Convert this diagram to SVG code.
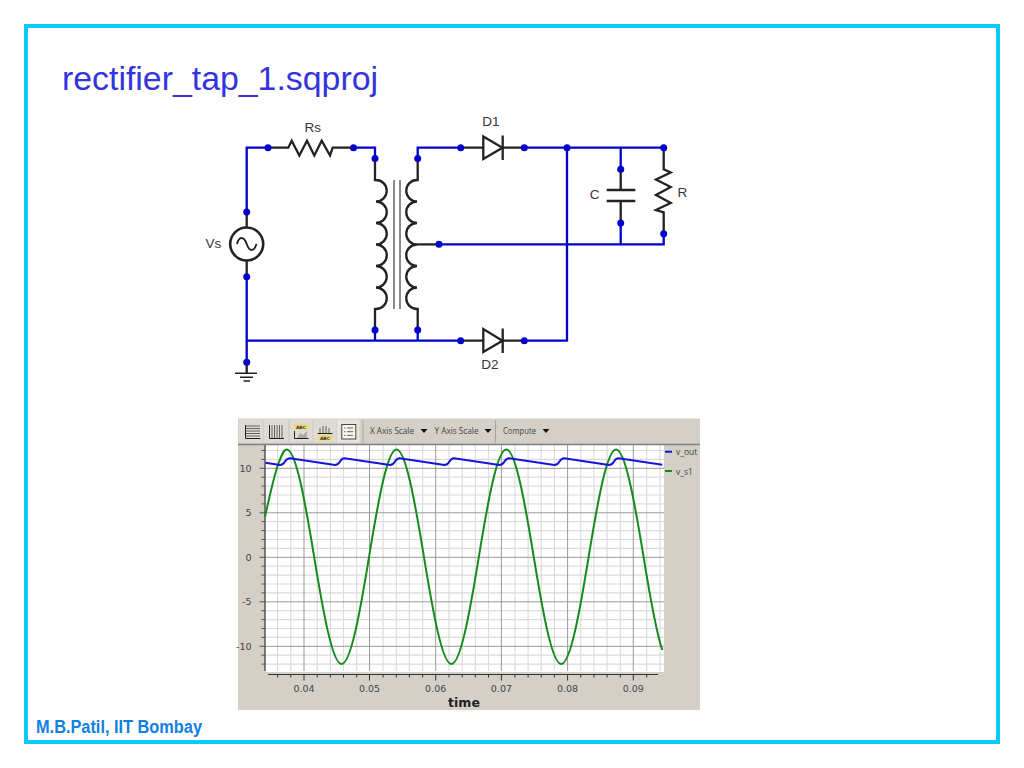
<svg xmlns="http://www.w3.org/2000/svg" width="1024" height="768" viewBox="0 0 1024 768">
<defs>
<style>
.wire{fill:none;stroke:#0000cc;stroke-width:2.3}
.lead{fill:none;stroke:#222;stroke-width:2.3}
.dot{fill:#0000c8}
.clab{font-family:"Liberation Sans",Arial,sans-serif;font-size:13.5px;fill:#3a3340}
.tick{font-family:"DejaVu Sans",sans-serif;font-size:9.5px;fill:#444}
.tb{font-family:"Open Sans",sans-serif;font-size:8.5px;fill:#444}
.ico{font-family:"DejaVu Sans",sans-serif;font-size:4.5px;font-weight:bold;fill:#333}
.btn{fill:#dedbd4}
.arr{fill:#111}
</style>
</defs>
<rect width="1024" height="768" fill="#fff"/>
<rect id="frame" x="26" y="26" width="972" height="716" fill="none" stroke="#0acbff" stroke-width="4"/>
<text id="title" x="62" y="90" font-family="Liberation Sans,Arial,sans-serif" font-size="33px" fill="#3333e0" textLength="316" lengthAdjust="spacingAndGlyphs">rectifier_tap_1.sqproj</text>
<text id="footer" x="36" y="733" font-family="Liberation Sans,Arial,sans-serif" font-size="18px" font-weight="bold" fill="#1280e2" textLength="166" lengthAdjust="spacingAndGlyphs">M.B.Patil, IIT Bombay</text>

<g id="connectors">
<path class="wire" d="M246.7 212V147.7H268"/>
<path class="wire" d="M353.5 147.7H375V158.5"/>
<path class="wire" d="M246.7 276.7V362.3"/>
<path class="wire" d="M246.7 340.7H460.7"/>
<path class="wire" d="M375 330V340.7M417.7 330V340.7"/>
<path class="wire" d="M417.7 158.5V147.7H460.7"/>
<path class="wire" d="M524.3 147.7H663.7"/>
<path class="wire" d="M524.3 340.7H567V147.7"/>
<path class="wire" d="M439 244.3H663.7V233.7"/>
<path class="wire" d="M620.7 147.7V169.3M620.7 223V244.3"/>
</g>

<g id="Vs">
<path class="lead" d="M246.7 212V227M246.7 261V276.7"/>
<circle cx="246.7" cy="244" r="16.5" fill="#fff" stroke="#222" stroke-width="2.6"/>
<path fill="none" stroke="#222" stroke-width="1.9" d="M237 244C239 236 244 236 246.7 244C249.4 252 254 252 256.5 244"/>
<circle class="dot" cx="246.7" cy="212" r="3.5"/><circle class="dot" cx="246.7" cy="276.7" r="3.5"/>
<text class="clab" x="205.5" y="248">Vs</text>
</g>
<g id="Rs">
<path class="lead" d="M268 147.7H288.3L291.7 140.7L299.3 155.5L307 140.7L314.3 155.5L321.7 140.7L330 155.5L332.7 147.7H353.5"/>
<circle class="dot" cx="268" cy="147.7" r="3.5"/><circle class="dot" cx="353.5" cy="147.7" r="3.5"/>
<text class="clab" x="312.7" y="131.5" text-anchor="middle">Rs</text>
</g>
<g id="T1">
<path class="lead" d="M375 158.5V180H376A10.75 10.75 0 0 1 376 201.5A10.75 10.75 0 0 1 376 223A10.75 10.75 0 0 1 376 244.5A10.75 10.75 0 0 1 376 266A10.75 10.75 0 0 1 376 287.5A10.75 10.75 0 0 1 376 309H375V330"/>
<path class="lead" d="M417.7 158.5V180H417A10.75 10.75 0 0 0 417 201.5A10.75 10.75 0 0 0 417 223A10.75 10.75 0 0 0 417 244.5A10.75 10.75 0 0 0 417 266A10.75 10.75 0 0 0 417 287.5A10.75 10.75 0 0 0 417 309H417.7V330"/>
<path class="lead" d="M417 244.4H439"/>
<path fill="none" stroke="#8a8a8a" stroke-width="2" d="M394 180V309M400 180V309"/>
<circle class="dot" cx="375" cy="158.5" r="3.5"/><circle class="dot" cx="417.7" cy="158.5" r="3.5"/>
<circle class="dot" cx="375" cy="330" r="3.5"/><circle class="dot" cx="417.7" cy="330" r="3.5"/>
<circle class="dot" cx="439" cy="244.3" r="3.5"/>
</g>
<g id="D1">
<path class="lead" d="M460.7 147.7H483.3M502.5 147.7H524.3"/>
<path fill="#fff" stroke="#222" stroke-width="2.3" d="M483.3 136.5V159L502.5 147.7Z"/>
<path class="lead" d="M502.7 135.5V160"/>
<circle class="dot" cx="460.7" cy="147.7" r="3.5"/><circle class="dot" cx="524.3" cy="147.7" r="3.5"/>
<text class="clab" x="491" y="125.5" text-anchor="middle">D1</text>
</g>
<g id="D2">
<path class="lead" d="M460.7 340.7H483.3M502.5 340.7H524.3"/>
<path fill="#fff" stroke="#222" stroke-width="2.3" d="M483.3 329V352L502.5 340.7Z"/>
<path class="lead" d="M502.7 328.5V353"/>
<circle class="dot" cx="460.7" cy="340.7" r="3.5"/><circle class="dot" cx="524.3" cy="340.7" r="3.5"/>
<text class="clab" x="490" y="368.5" text-anchor="middle">D2</text>
</g>
<g id="C">
<path class="lead" d="M620.7 169.3V190M606.7 190H635.3M606.7 201H635.3M620.7 201V223"/>
<circle class="dot" cx="620.7" cy="169.3" r="3.5"/><circle class="dot" cx="620.7" cy="223" r="3.5"/>
<text class="clab" x="594.7" y="199" text-anchor="middle">C</text>
</g>
<g id="R">
<path class="lead" d="M663.7 147.7V169.3L670.7 172.5L656 179.5L670.7 187L656 195L670.7 203L656 210L663.7 212.3V233.7"/>
<circle class="dot" cx="663.7" cy="147.7" r="3.5"/><circle class="dot" cx="663.7" cy="233.7" r="3.5"/>
<text class="clab" x="677.5" y="196.5">R</text>
</g>
<g id="ground">
<path class="lead" d="M246.7 362.3V373"/>
<path fill="none" stroke="#222" stroke-width="1.6" d="M235 373.3H257M240 377.3H253M243.5 381H250"/>
<circle class="dot" cx="246.7" cy="362.3" r="3.5"/>
</g>
<circle class="dot" cx="567" cy="147.7" r="3.5"/>

<g id="plot">
<rect x="238" y="418.5" width="462" height="291.5" fill="#d4d0c8"/>
<rect x="265" y="445" width="399" height="227" fill="#fff"/>
<path fill="none" stroke="#dcdcdc" stroke-width="1.2" d="M277.6 445V671M290.8 445V671M317.2 445V671M330.4 445V671M343.5 445V671M356.7 445V671M383.1 445V671M396.3 445V671M409.4 445V671M422.6 445V671M449 445V671M462.2 445V671M475.3 445V671M488.5 445V671M514.9 445V671M528.1 445V671M541.2 445V671M554.4 445V671M580.8 445V671M594 445V671M607.1 445V671M620.3 445V671M646.7 445V671M659.9 445V671M265 450.5H664M265 459.4H664M265 477.2H664M265 486.1H664M265 495H664M265 503.9H664M265 521.7H664M265 530.6H664M265 539.5H664M265 548.4H664M265 566.2H664M265 575.1H664M265 584H664M265 592.9H664M265 610.7H664M265 619.6H664M265 628.5H664M265 637.4H664M265 655.2H664M265 664.1H664"/>
<path fill="none" stroke="#999" stroke-width="1" d="M304 445V671M369.5 445V671M435.7 445V671M501.4 445V671M567.6 445V671M633.3 445V671M265 468.3H664M265 512.8H664M265 557.3H664M265 601.8H664M265 646.3H664"/>
<path fill="none" stroke="#555" stroke-width="1.5" d="M265 445V671"/>
<path fill="none" stroke="#555" stroke-width="1" d="M261.5 450.5H265M261.5 459.4H265M261.5 477.2H265M261.5 486.1H265M261.5 495H265M261.5 503.9H265M261.5 521.7H265M261.5 530.6H265M261.5 539.5H265M261.5 548.4H265M261.5 566.2H265M261.5 575.1H265M261.5 584H265M261.5 592.9H265M261.5 610.7H265M261.5 619.6H265M261.5 628.5H265M261.5 637.4H265M261.5 655.2H265M261.5 664.1H265M259.5 468.3H265M259.5 512.8H265M259.5 557.3H265M259.5 601.8H265M259.5 646.3H265"/>
<path fill="none" stroke="#333" stroke-width="1" d="M268 674.5H658M277.6 674.5V677.5M290.8 674.5V677.5M317.2 674.5V677.5M330.4 674.5V677.5M343.5 674.5V677.5M356.7 674.5V677.5M383.1 674.5V677.5M396.3 674.5V677.5M409.4 674.5V677.5M422.6 674.5V677.5M449 674.5V677.5M462.2 674.5V677.5M475.3 674.5V677.5M488.5 674.5V677.5M514.9 674.5V677.5M528.1 674.5V677.5M541.2 674.5V677.5M554.4 674.5V677.5M580.8 674.5V677.5M594 674.5V677.5M607.1 674.5V677.5M620.3 674.5V677.5M646.7 674.5V677.5M304 674.5V680.5M369.5 674.5V680.5M435.7 674.5V680.5M501.4 674.5V680.5M567.6 674.5V680.5M633.3 674.5V680.5"/>
<path id="v_s1" fill="none" stroke="#158a1e" stroke-width="2" d="M265 516.7C270 495 274 475 279 462C282 454 284 449.5 286.7 449.5C295.85 449.5 305 501 314.15 556.8C323.3 612.7 332.45 664 341.6 664C350.75 664 359.9 612.7 369.05 556.8C378.2 501 387.35 449.5 396.5 449.5C405.65 449.5 414.8 501 423.95 556.8C433.1 612.7 442.25 664 451.4 664C460.55 664 469.7 612.7 478.85 556.8C488 501 497.15 449.5 506.3 449.5C515.45 449.5 524.6 501 533.75 556.8C542.9 612.7 552.05 664 561.2 664C570.35 664 579.5 612.7 588.65 556.8C597.8 501 606.95 449.5 616.1 449.5C625.25 449.5 634.4 501 643.55 556.8C649.8 595.2 656 631.8 662.3 650"/>
<path id="v_out" fill="none" stroke="#1414dc" stroke-width="2" stroke-linejoin="round" d="M265.5 462.7L280 465Q283 465 285 461.5Q287 458.3 290 458.3L335 465Q338 465 340 461.5Q342 458.3 344.5 458.3L390 465Q393 465 395 461.5Q397 458.3 399.5 458.3L444.5 465Q447.5 465 449.5 461.5Q451.5 458.3 454 458.3L499.5 465Q502.5 465 504.5 461.5Q506.5 458.3 509 458.3L554.5 465Q557.5 465 559.5 461.5Q561.5 458.3 564 458.3L609 465Q612 465 614 461.5Q616 458.3 618.5 458.3L662.3 464.8"/>
<text class="tick" x="251.5" y="471.7" text-anchor="end">10</text>
<text class="tick" x="251.5" y="516" text-anchor="end">5</text>
<text class="tick" x="251.5" y="560.6" text-anchor="end">0</text>
<text class="tick" x="251.5" y="605" text-anchor="end">-5</text>
<text class="tick" x="251.5" y="649.6" text-anchor="end">-10</text>
<text class="tick" x="304" y="692" text-anchor="middle">0.04</text>
<text class="tick" x="369.5" y="692" text-anchor="middle">0.05</text>
<text class="tick" x="435.7" y="692" text-anchor="middle">0.06</text>
<text class="tick" x="501.4" y="692" text-anchor="middle">0.07</text>
<text class="tick" x="567.6" y="692" text-anchor="middle">0.08</text>
<text class="tick" x="633.3" y="692" text-anchor="middle">0.09</text>
<text x="464" y="706.5" text-anchor="middle" font-family="DejaVu Sans,sans-serif" font-size="12.5px" font-weight="bold" fill="#222">time</text>
<path stroke="#1414dc" stroke-width="2" d="M665 451.7H672"/>
<path stroke="#158a1e" stroke-width="2" d="M665 471H672"/>
<text class="tb" x="676" y="455">v_out</text>
<text class="tb" x="676" y="475">v_s1</text>
<g id="toolbar">
<path stroke="#808080" stroke-width="1.5" d="M238 444.5H700"/>
<path stroke="#a8a49c" stroke-width="1" d="M363 420V443M495.5 420V443"/>
<rect class="btn" x="239" y="419.5" width="23.5" height="23"/>
<rect class="btn" x="264" y="419.5" width="24" height="23"/>
<rect class="btn" x="290" y="419.5" width="22" height="23"/>
<rect class="btn" x="313.5" y="419.5" width="22.5" height="23"/>
<rect x="337" y="419.5" width="22.5" height="23" fill="#e6e3dc"/>
<path fill="none" stroke="#555" stroke-width="0.9" d="M246 426H260M246 428.5H260M246 431H260M246 433.5H260M246 436H260"/>
<path fill="none" stroke="#222" stroke-width="1" d="M245.5 425V438.5H260.5"/>
<path fill="none" stroke="#555" stroke-width="0.9" d="M272 425V438M274.5 425V438M277 425V438M279.5 425V438M282 425V438"/>
<path fill="none" stroke="#222" stroke-width="1" d="M269.5 425V438.5H284"/>
<rect x="294" y="424" width="14" height="5.5" fill="#f0d878"/>
<text class="ico" x="301" y="428.6" text-anchor="middle">ABC</text>
<path fill="#aaa" d="M297 438L300 433L303 435L307 431V438Z"/>
<path fill="none" stroke="#222" stroke-width="1" d="M294.5 431V438.5H308.5"/>
<path fill="none" stroke="#888" stroke-width="1.4" d="M320 433V428M323 433V426M326 433V426M329 433V428"/>
<path stroke="#222" stroke-width="1" d="M317.5 433.5H332.5"/>
<rect x="318" y="435" width="14" height="5.5" fill="#f0d878"/>
<text class="ico" x="325" y="439.6" text-anchor="middle">ABC</text>
<rect x="341.8" y="424.5" width="14" height="14.5" fill="#f6f5f0" stroke="#333" stroke-width="0.9"/>
<path fill="none" stroke="#555" stroke-width="0.9" d="M344 428H345.5M347 428H353M344 431.7H345.5M347 431.7H353M344 435.4H345.5M347 435.4H353"/>
<text class="tb" x="370" y="434" textLength="44" lengthAdjust="spacingAndGlyphs">X Axis Scale</text>
<path class="arr" d="M420.5 429H427.5L424 433Z"/>
<text class="tb" x="434.5" y="434" textLength="44" lengthAdjust="spacingAndGlyphs">Y Axis Scale</text>
<path class="arr" d="M484.5 429H491.5L488 433Z"/>
<text class="tb" x="503" y="434" textLength="33" lengthAdjust="spacingAndGlyphs">Compute</text>
<path class="arr" d="M542.5 429H549.5L546 433Z"/>
</g>
</g>
</svg>
